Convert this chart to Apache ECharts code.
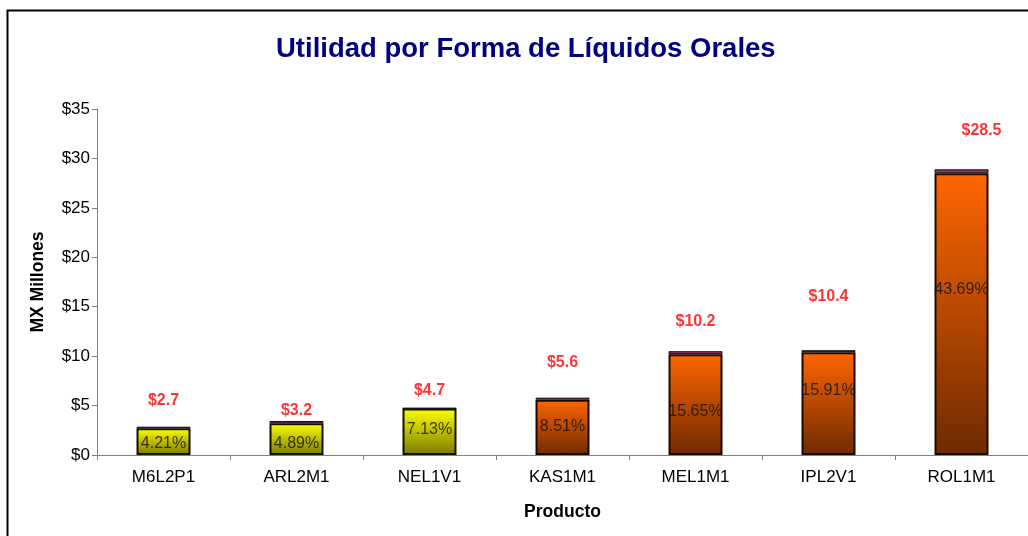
<!DOCTYPE html>
<html>
<head>
<meta charset="utf-8">
<script src="https://cdn.jsdelivr.net/npm/echarts@6/dist/echarts.min.js"></script>
<style>
html,body{margin:0;padding:0;background:#fff;}
#mainChart{width:1028px;height:536px;}
</style>
</head>
<body>
<div id="mainChart"></div>
<script>
var productos=['M6L2P1','ARL2M1','NEL1V1','KAS1M1','MEL1M1','IPL2V1','ROL1M1'];
var utilidad=[2.7,3.2,4.7,5.6,10.2,10.4,28.5];
var tope=[0.16,0.24,0.05,0.2,0.3,0.2,0.4];
var porcentaje=['4.21%','4.89%','7.13%','8.51%','15.65%','15.91%','43.69%'];
var etiquetaEn=[5.46,4.45,6.47,9.3,13.45,15.98,32.8];
var porcentajeEn=[1.11,1.11,2.53,2.83,4.35,6.47,16.7];
var yTicks=[0,5,10,15,20,25,30,35];

var FONT='"Liberation Sans", Arial, sans-serif';

function relleno(i){
    var amarillo=i<3;
    return {
        type:'linear',x:0,y:0,x2:0,y2:1,
        colorStops:amarillo
            ?[{offset:0,color:'#ffff00'},{offset:1,color:'#7a7a00'}]
            :[{offset:0,color:'#ff6600'},{offset:1,color:'#6e2a00'}]
    };
}

var barras=utilidad.map(function(v,i){
    return {value:v,itemStyle:{color:relleno(i),borderColor:i<3?'#111100':'#1a0a00',borderWidth:2}};
});

var chart=echarts.init(document.getElementById('mainChart'));
chart.setOption({
    animation:false,
    title:{
        text:'Utilidad por Forma de Líquidos Orales',
        left:271,top:30,
        textStyle:{fontFamily:FONT,fontSize:27.5,fontWeight:'bold',color:'#000080'}
    },
    graphic:[{
        type:'rect',left:5,top:8,
        shape:{width:1100,height:600},
        style:{fill:'none',stroke:'#000',lineWidth:2},
        silent:true
    }],
    grid:{left:97,right:0,top:109,bottom:81},
    xAxis:{
        type:'category',data:productos,
        name:'Producto',nameLocation:'middle',nameGap:48,
        nameTextStyle:{fontFamily:FONT,fontSize:17.5,fontWeight:'bold',color:'#000'},
        axisLine:{lineStyle:{color:'#808080',width:1}},
        axisTick:{show:true,length:5,lineStyle:{color:'#808080'}},
        axisLabel:{fontFamily:FONT,fontSize:17,color:'#000',margin:14}
    },
    yAxis:{
        type:'value',min:yTicks[0],max:yTicks[yTicks.length-1],interval:5,
        name:'MX Millones',nameLocation:'middle',nameGap:50,nameRotate:90,
        nameTextStyle:{fontFamily:FONT,fontSize:17.5,fontWeight:'bold',color:'#000'},
        axisLine:{show:true,lineStyle:{color:'#808080',width:1}},
        axisTick:{show:true,length:5,lineStyle:{color:'#808080'}},
        splitLine:{show:false},
        axisLabel:{fontFamily:FONT,fontSize:17,color:'#000',margin:7,formatter:function(v){return '$'+v;}}
    },
    series:[
        {name:'Utilidad',type:'bar',stack:'total',barWidth:54,data:barras},
        {name:'Tope',type:'bar',stack:'total',barWidth:54,data:tope,
            itemStyle:{color:'#993366',borderColor:'#111',borderWidth:1}},
        {name:'Porcentaje',type:'scatter',symbolSize:0,silent:true,z:5,
            data:porcentajeEn.map(function(y,i){return [i,y];}),
            label:{show:true,position:'inside',fontFamily:FONT,fontSize:16,color:'#111',
                formatter:function(p){return porcentaje[p.dataIndex];}}},
        {name:'Total',type:'scatter',symbolSize:0,silent:true,z:5,
            data:etiquetaEn.map(function(y,i){
                return i==productos.length-1?{value:[i,y],label:{offset:[20,0]}}:[i,y];
            }),
            label:{show:true,position:'inside',fontFamily:FONT,fontSize:16,fontWeight:'bold',color:'#ff0000',
                formatter:function(p){return '$'+utilidad[p.dataIndex].toFixed(1);}}}
    ]
});
</script>
</body>
</html>
